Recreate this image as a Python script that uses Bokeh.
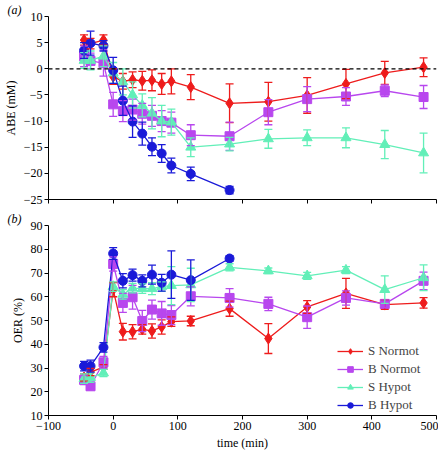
from bokeh.plotting import figure
from bokeh.layouts import column
from bokeh.models import (ColumnDataSource, Whisker, TeeHead, Span, FixedTicker,
                          CustomJSTickFormatter, Title, Range1d, Legend)
from bokeh.embed import file_html
from bokeh.resources import INLINE

# ---------------- data ----------------
time_all = [-45, -35, -15, 0, 15, 30, 45, 60, 75, 90, 120, 180, 240, 300, 360, 420, 480]
time_bh = [-45, -35, -15, 0, 15, 30, 45, 60, 75, 90, 120, 180]

series_names = ["S Normot", "B Normot", "S Hypot", "B Hypot"]

# ABE (mM)
abe_sn = [5.5, 4.8, 5.5, -1.5, -2.4, -2.1, -2.3, -2.2, -2.9, -2.4, -3.5, -6.6, -6.3, -5.1, -2.9, -0.8, 0.3]
abe_sn_err = [1.0, 1.0, 1.0, 1.5, 1.5, 1.5, 1.8, 2.0, 2.0, 2.4, 2.4, 3.7, 3.7, 3.4, 2.8, 2.2, 1.8]
abe_bn = [2.4, 1.5, 1.1, -6.8, -8.1, -7.8, -8.6, -9.0, -10.0, -10.3, -12.7, -12.9, -8.3, -5.8, -5.3, -4.2, -5.4]
abe_bn_err = [2.0, 1.5, 2.5, 2.3, 2.0, 2.0, 2.0, 2.0, 2.0, 2.0, 2.0, 2.7, 2.4, 2.4, 1.7, 1.1, 2.2]
abe_sh = [1.6, 1.6, 2.4, -0.8, -2.5, -5.0, -7.0, -8.5, -10.0, -10.2, -15.0, -14.4, -13.4, -13.2, -13.2, -14.5, -16.1]
abe_sh_err = [1.5, 1.8, 2.0, 2.0, 2.5, 2.5, 2.2, 3.0, 3.0, 2.5, 1.8, 1.3, 1.8, 1.5, 1.9, 2.7, 3.8]
abe_bh = [3.5, 4.9, 4.4, -0.3, -6.1, -10.1, -12.4, -14.9, -16.2, -18.5, -20.1, -23.2]
abe_bh_err = [1.5, 2.3, 1.0, 2.5, 2.8, 3.0, 2.2, 1.7, 1.7, 1.4, 1.3, 0.7]

# OER (%)
oer_sn = [26.0, 28.3, 30.4, 63.0, 45.3, 45.3, 46.3, 45.6, 47.3, 49.5, 49.8, 55.0, 42.4, 55.7, 61.4, 56.7, 57.4]
oer_sn_err = [1.5, 1.5, 1.0, 3.0, 3.5, 3.0, 2.0, 3.0, 3.0, 2.0, 2.0, 3.2, 6.3, 2.7, 6.3, 2.0, 2.2]
oer_bn = [25.0, 22.3, 32.4, 73.8, 57.4, 59.8, 49.8, 54.6, 53.0, 52.3, 60.2, 59.5, 57.0, 51.4, 59.5, 57.0, 66.7]
oer_bn_err = [2.0, 1.5, 2.5, 3.0, 4.0, 5.0, 4.5, 4.0, 5.0, 4.0, 4.0, 3.9, 2.8, 4.7, 3.0, 1.7, 3.7]
oer_sh = [25.5, 26.0, 27.9, 64.3, 61.0, 63.6, 63.4, 63.4, 64.3, 64.7, 65.0, 72.4, 70.9, 68.8, 71.2, 63.0, 68.0]
oer_sh_err = [2.0, 2.0, 1.5, 2.0, 2.0, 2.0, 2.0, 2.5, 2.0, 8.0, 7.0, 1.5, 1.2, 1.5, 1.5, 5.8, 5.4]
oer_bh = [30.8, 30.8, 38.7, 78.2, 66.7, 69.1, 66.7, 69.3, 65.9, 69.3, 67.0, 76.1]
oer_bh_err = [2.0, 2.5, 2.0, 2.5, 3.0, 2.5, 2.5, 4.0, 3.5, 10.0, 8.5, 1.2]

x_ticks = [-100, 0, 100, 200, 300, 400, 500]
abe_ticks = [-25, -20, -15, -10, -5, 0, 5, 10]
oer_ticks = [10, 20, 30, 40, 50, 60, 70, 80, 90]

colors = ["#ee1c1c", "#b847ee", "#62efb8", "#1a1ad8"]
markers = ["diamond", "square", "triangle", "circle"]
msizes = [11, 9, 10, 9]

FONT = "'Liberation Serif', 'Times New Roman', serif"
MINUS_FMT = CustomJSTickFormatter(code="return tick < 0 ? '\\u2212' + Math.abs(tick) : String(tick);")

LB = 42
FRAME_W = 388
RB = 8


def style(p, yticks, show_xlabels):
    p.outline_line_color = None
    p.xgrid.visible = False
    p.ygrid.visible = False
    for ax in (p.xaxis[0], p.yaxis[0]):
        ax.axis_line_color = "black"
        ax.axis_line_width = 1
        ax.major_tick_line_color = "black"
        ax.major_tick_out = 4
        ax.major_tick_in = 0
        ax.minor_tick_line_color = None
        ax.major_label_text_font = FONT
        ax.major_label_text_font_size = "12px"
        ax.major_label_text_color = "black"
        ax.axis_label_text_font = FONT
        ax.axis_label_text_font_size = "12px"
        ax.axis_label_text_font_style = "normal"
        ax.axis_label_text_color = "black"
        ax.major_label_standoff = 2
        ax.axis_label_standoff = 3
    p.xaxis.ticker = FixedTicker(ticks=x_ticks)
    p.yaxis.ticker = FixedTicker(ticks=yticks)
    p.yaxis.formatter = MINUS_FMT
    if show_xlabels:
        p.xaxis.formatter = MINUS_FMT
    else:
        p.xaxis.formatter = CustomJSTickFormatter(code="return '';")
        p.xaxis.major_label_standoff = 0


def add_series(p, xs, ys, errs, color, marker, size, label, legend_items=None):
    src = ColumnDataSource(dict(x=xs, y=ys,
                                lo=[a - b for a, b in zip(ys, errs)],
                                hi=[a + b for a, b in zip(ys, errs)]))
    w = Whisker(source=src, base="x", upper="hi", lower="lo", dimension="height",
                line_color=color, line_width=1.3,
                upper_head=TeeHead(size=8, line_color=color, line_width=1.3),
                lower_head=TeeHead(size=8, line_color=color, line_width=1.3))
    w.level = "glyph"
    p.add_layout(w)
    ln = p.line("x", "y", source=src, line_color=color, line_width=1.3)
    sc = p.scatter("x", "y", source=src, marker=marker, size=size,
                   fill_color=color, line_color=color)
    if legend_items is not None:
        legend_items.append((label, [ln, sc]))


def panel_letter(p, letter):
    p.add_layout(Title(text=letter, align="left", offset=-(LB - 1), standoff=0,
                       text_font=FONT, text_font_size="12px",
                       text_font_style="italic", text_color="black"), "above")


# ---------------- top panel ----------------
p1 = figure(frame_width=FRAME_W, frame_height=183, output_backend="svg",
            toolbar_location=None, x_range=Range1d(-100, 500), y_range=Range1d(-25, 10),
            min_border_left=LB, min_border_right=RB, min_border_top=0, min_border_bottom=10)
p1.yaxis.axis_label = "ABE (mM)"
style(p1, abe_ticks, False)
p1.add_layout(Span(location=0, dimension="width", line_color="black",
                   line_dash="4 3", line_width=1.2))
abe = [(abe_sn, abe_sn_err), (abe_bn, abe_bn_err), (abe_sh, abe_sh_err), (abe_bh, abe_bh_err)]
for i, (ys, es) in enumerate(abe):
    xs = time_bh if i == 3 else time_all
    add_series(p1, xs, ys, es, colors[i], markers[i], msizes[i], series_names[i])
panel_letter(p1, "(a)")

# ---------------- bottom panel ----------------
p2 = figure(frame_width=FRAME_W, frame_height=190, output_backend="svg",
            toolbar_location=None, x_range=Range1d(-100, 500), y_range=Range1d(10, 90),
            min_border_left=LB, min_border_right=RB, min_border_top=0, min_border_bottom=33)
p2.yaxis.axis_label = "OER (%)"
p2.xaxis.axis_label = "time (min)"
style(p2, oer_ticks, True)
items = []
oer = [(oer_sn, oer_sn_err), (oer_bn, oer_bn_err), (oer_sh, oer_sh_err), (oer_bh, oer_bh_err)]
for i, (ys, es) in enumerate(oer):
    xs = time_bh if i == 3 else time_all
    add_series(p2, xs, ys, es, colors[i], markers[i], msizes[i], series_names[i], items)
legend = Legend(items=items, location=(289, 2),
                label_text_font=FONT, label_text_font_size="13px",
                label_height=14, glyph_height=14, glyph_width=26, spacing=2,
                padding=4, margin=0, border_line_color=None,
                background_fill_alpha=0)
p2.add_layout(legend)
panel_letter(p2, "(b)")

layout = column(p1, p2, spacing=0)
open("out.html", "w").write(file_html(layout, INLINE))
